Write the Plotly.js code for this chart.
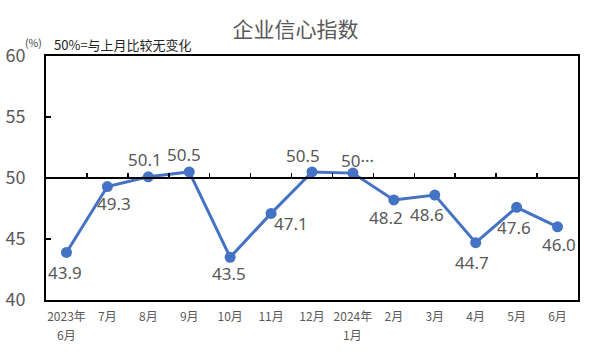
<!DOCTYPE html>
<html><head><meta charset="utf-8">
<script src="https://cdn.plot.ly/plotly-3.0.1.min.js"></script>
<style>body{margin:0;background:#fff}#c{width:591px;height:354px}</style>
</head><body><div id="c"></div>
<script>
const categories = ["2023年6月","7月","8月","9月","10月","11月","12月","2024年1月","2月","3月","4月","5月","6月"];
const tickTop = ["2023年","7月","8月","9月","10月","11月","12月","2024年","2月","3月","4月","5月","6月"];
const tickBottom = ["6月","","","","","","","1月","","","","",""];
const values = [43.9, 49.3, 50.1, 50.5, 43.5, 47.1, 50.5, 50.4, 48.2, 48.6, 44.7, 47.6, 46.0];
const labels = ["43.9","49.3","50.1","50.5","43.5","47.1","50.5","50···","48.2","48.6","44.7","47.6","46.0"];
const yTicks = [40, 45, 50, 55, 60];
// label offsets in pixels (style only): right and down from each point
const labelDx = [-1, 7, -3, -5, -1, 20, -9, 5, -8, -8, -4, -3, 1];
const labelDy = [20, 17, -17, -17, 16, 10, -16, -13, 18, 19, 20, 20, 18];

const F = '"Noto Sans CJK SC", "Noto Sans", sans-serif';
const FL = '"Noto Sans", "Noto Sans CJK SC", sans-serif';
const trace = {
  x: categories, y: values, type: 'scatter', mode: 'lines+markers',
  line: {color: '#4472C4', width: 3},
  marker: {color: '#4472C4', size: 11},
  cliponaxis: false, hoverinfo: 'none'
};
const axisTrace = {x: categories, y: values, xaxis: 'x2', type: 'scatter', mode: 'none', hoverinfo: 'none', showlegend: false};

const labelAnns = values.map((v, i) => ({
  x: categories[i], y: v, xref: 'x', yref: 'y', text: labels[i], showarrow: false,
  xanchor: 'center', yanchor: 'middle', xshift: labelDx[i], yshift: -labelDy[i],
  font: {family: FL, size: 17, color: '#595959'}
}));
const subTickAnns = tickBottom.map((t, i) => ({
  x: categories[i], y: 0, xref: 'x', yref: 'paper', text: t, showarrow: false,
  xanchor: 'center', yanchor: 'middle', yshift: -34, borderpad: 0, visible: t !== '',
  font: {family: F, size: 12, color: '#595959'}
}));

const layout = {
  width: 591, height: 354,
  margin: {l: 46, r: 13, t: 56, b: 54},
  paper_bgcolor: '#fff', plot_bgcolor: '#fff',
  showlegend: false,
  title: {text: '企业信心指数', font: {family: F, size: 21, color: '#595959'}, x: 0.5, xanchor: 'center', y: 0.915, yanchor: 'middle'},
  xaxis: {
    type: 'category', range: [-0.5, 12.5], showgrid: false, zeroline: false,
    showline: true, mirror: true, linecolor: '#000', linewidth: 2, ticks: '',
    tickvals: categories, ticktext: tickTop,
    ticklabelstandoff: 5,
    tickfont: {family: F, size: 12, color: '#595959'}
  },
  xaxis2: {
    type: 'category', overlaying: 'x', anchor: 'free', position: 0.5, side: 'bottom',
    range: [-0.5, 12.5], showgrid: false, zeroline: false, showline: true,
    linecolor: '#000', linewidth: 2, ticks: 'inside', tickson: 'boundaries',
    ticklen: 4, tickwidth: 1.5, tickcolor: '#000', showticklabels: false
  },
  yaxis: {
    range: [40, 60], tickvals: yTicks, showgrid: false, zeroline: false,
    showline: true, mirror: true, linecolor: '#000', linewidth: 2,
    ticks: 'inside', ticklen: 5, tickwidth: 1.5, tickcolor: '#000',
    ticklabelstandoff: 15,
    tickfont: {family: F, size: 18, color: '#595959'}
  },
  annotations: [
    {text: '(%)', xref: 'paper', yref: 'paper', x: 0, y: 1.0, xanchor: 'left', yanchor: 'middle', xshift: -23, yshift: 14, showarrow: false, font: {family: F, size: 10.5, color: '#404040'}},
    {text: '50%=与上月比较无变化', xref: 'paper', yref: 'paper', x: 0.0, y: 1.0, xanchor: 'left', yanchor: 'middle', xshift: 6, yshift: 12, showarrow: false, font: {family: F, size: 13, color: '#222'}}
  ].concat(labelAnns, subTickAnns)
};
Plotly.newPlot('c', [trace, axisTrace], layout, {staticPlot: true});
</script></body></html>
